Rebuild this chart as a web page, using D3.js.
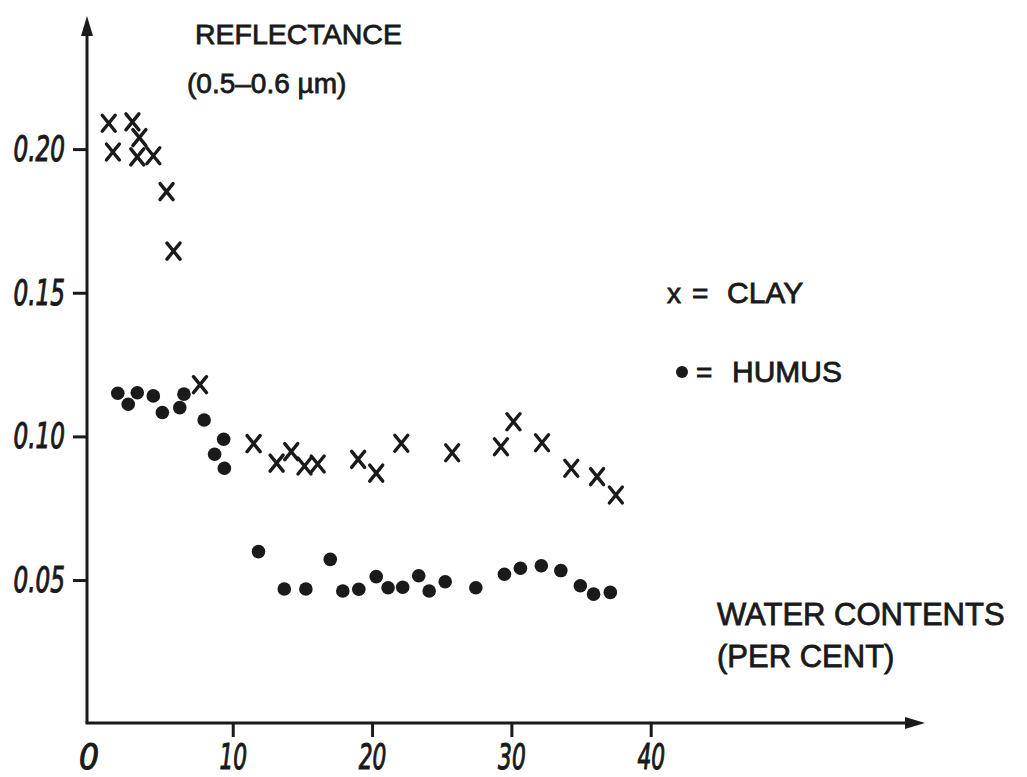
<!DOCTYPE html>
<html>
<head>
<meta charset="utf-8">
<script src="https://cdn.jsdelivr.net/npm/d3@7"></script>
<style>
  body { margin: 0; background: #fff; }
  svg { display: block; }
  .hand { font-family: "DejaVu Sans", sans-serif; font-style: italic; font-size: 35px; fill: #1a1a1a; stroke: #1a1a1a; stroke-width: 1.1px; }
  .lbl { font-family: "Liberation Sans", Arial, sans-serif; fill: #1a1a1a; stroke: #1a1a1a; stroke-width: 0.8px; }
</style>
</head>
<body>
<svg id="chart" width="1027" height="777"></svg>
<script>
// Reflectance (0.5-0.6 µm) against water content (%) for two soils
const clayWater = [1.1, 2.8, 3.3, 1.4, 3.15, 4.3, 5.25, 5.75, 7.65, 11.5, 13.15, 14.2, 15.15, 16.1,
                   19.0, 20.3, 22.1, 25.75, 29.25, 30.15, 32.2, 34.3, 36.15, 37.5];
const clayRefl = [0.209, 0.2095, 0.204, 0.199, 0.1973, 0.1977, 0.1852, 0.1645, 0.118, 0.0975, 0.0907,
                  0.0947, 0.0897, 0.0904, 0.092, 0.0872, 0.0976, 0.0943, 0.0964, 0.1051, 0.0978,
                  0.0889, 0.086, 0.0796];

const humusWater = [1.75, 2.5, 3.15, 4.3, 4.95, 6.2, 6.5, 7.95, 9.35, 8.7, 9.4, 11.85, 13.7, 15.25,
                    17.0, 17.9, 19.05, 20.3, 21.15, 22.2, 23.35, 24.1, 25.25, 27.45, 29.5, 30.65,
                    32.15, 33.55, 34.95, 35.9, 37.1];
const humusRefl = [0.115, 0.1112, 0.1152, 0.1141, 0.1083, 0.11, 0.1147, 0.1057, 0.099, 0.0938, 0.0889,
                   0.0599, 0.0469, 0.0469, 0.0572, 0.0462, 0.0468, 0.0512, 0.0473, 0.0475, 0.0515,
                   0.0462, 0.0494, 0.0473, 0.052, 0.0541, 0.055, 0.0533, 0.048, 0.0451, 0.0457];

const xTicks = [0, 10, 20, 30, 40];
const xTickLabels = ["0", "10", "20", "30", "40"];
const yTicks = [0.05, 0.10, 0.15, 0.20];
const yTickLabels = ["0.05", "0.10", "0.15", "0.20"];
const legendLabels = ["CLAY", "HUMUS"];
const yTitle = ["REFLECTANCE", "(0.5\u20130.6 \u00b5m)"];
const xTitle = ["WATER CONTENTS", "(PER CENT)"];

const ink = "#1a1a1a";
const svg = d3.select("#chart");

const x = d3.scaleLinear().domain([0, 40]).range([93.4, 650.7]);
const y = d3.scaleLinear().domain([0, 0.25]).range([723.7, 5.45]);

const originX = 87, originY = 723;

// Axis lines with arrow heads
svg.append("line").attr("x1", originX).attr("y1", originY).attr("x2", originX).attr("y2", 30)
  .attr("stroke", ink).attr("stroke-width", 3);
svg.append("line").attr("x1", originX - 1.5).attr("y1", originY).attr("x2", 912).attr("y2", originY)
  .attr("stroke", ink).attr("stroke-width", 3);
svg.append("path").attr("d", `M${originX},16 L${originX - 6},36 L${originX + 6},36 Z`).attr("fill", ink);
svg.append("path").attr("d", `M925,${originY} L905,${originY - 6} L905,${originY + 6} Z`).attr("fill", ink);

// X axis ticks and labels
const xAxis = svg.append("g").attr("transform", `translate(0,${originY})`)
  .call(d3.axisBottom(x).tickValues(xTicks).tickSize(14).tickSizeOuter(0)
        .tickFormat((d, i) => xTickLabels[i]));
xAxis.select(".domain").remove();
xAxis.selectAll(".tick line").attr("stroke", ink).attr("stroke-width", 3)
  .attr("display", d => d === 0 ? "none" : null);
xAxis.selectAll(".tick text").attr("class", "hand").attr("font-size", null).attr("font-family", null)
  .attr("fill", ink).attr("y", 46).attr("dy", null)
  .attr("transform", d => d === 0 ? "translate(-5,0) scale(0.9,1)" : "scale(0.62,1)");

// Y axis ticks and labels
const yAxis = svg.append("g").attr("transform", `translate(${originX},0)`)
  .call(d3.axisLeft(y).tickValues(yTicks).tickSize(14).tickSizeOuter(0)
        .tickFormat((d, i) => yTickLabels[i]));
yAxis.select(".domain").remove();
yAxis.selectAll(".tick line").attr("stroke", ink).attr("stroke-width", 3);
yAxis.selectAll(".tick text").attr("class", "hand").attr("font-size", null).attr("font-family", null)
  .attr("fill", ink).attr("x", -22 / 0.66).attr("dy", "0.33em").attr("text-anchor", "end")
  .attr("transform", "scale(0.66,1)");

// Humus: filled dots
svg.append("g").selectAll("circle")
  .data(humusWater.map((w, i) => [w, humusRefl[i]]))
  .join("circle")
  .attr("cx", d => x(d[0])).attr("cy", d => y(d[1])).attr("r", 6.8)
  .attr("fill", ink);

// Clay: crosses
const cross = "M-6.5,-8 L6.5,8 M6.5,-8 L-6.5,8";
svg.append("g").selectAll("path")
  .data(clayWater.map((w, i) => [w, clayRefl[i]]))
  .join("path")
  .attr("transform", d => `translate(${x(d[0])},${y(d[1])})`)
  .attr("d", cross).attr("fill", "none").attr("stroke", ink)
  .attr("stroke-width", 3.4).attr("stroke-linecap", "round");

// Axis titles
svg.append("text").attr("class", "lbl").attr("x", 195).attr("y", 44)
  .attr("font-size", 28.5).text(yTitle[0]);
svg.append("text").attr("class", "lbl").attr("x", 187).attr("y", 93)
  .attr("font-size", 28).text(yTitle[1]);
svg.append("text").attr("class", "lbl").attr("x", 717).attr("y", 625)
  .attr("font-size", 31).text(xTitle[0]);
svg.append("text").attr("class", "lbl").attr("x", 717).attr("y", 667)
  .attr("font-size", 31).text(xTitle[1]);

// Legend
const leg = svg.append("g");
leg.append("text").attr("class", "lbl").attr("x", 667).attr("y", 303).attr("font-size", 28).text("x");
leg.append("circle").attr("cx", 682).attr("cy", 372).attr("r", 6).attr("fill", ink);
[303, 382].forEach((by, i) => {
  leg.append("text").attr("class", "lbl").attr("x", i === 0 ? 692 : 696).attr("y", by)
    .attr("font-size", 28).text("=");
  leg.append("text").attr("class", "lbl").attr("x", i === 0 ? 727 : 732).attr("y", by)
    .attr("font-size", 30).text(legendLabels[i]);
});
</script>
</body>
</html>
